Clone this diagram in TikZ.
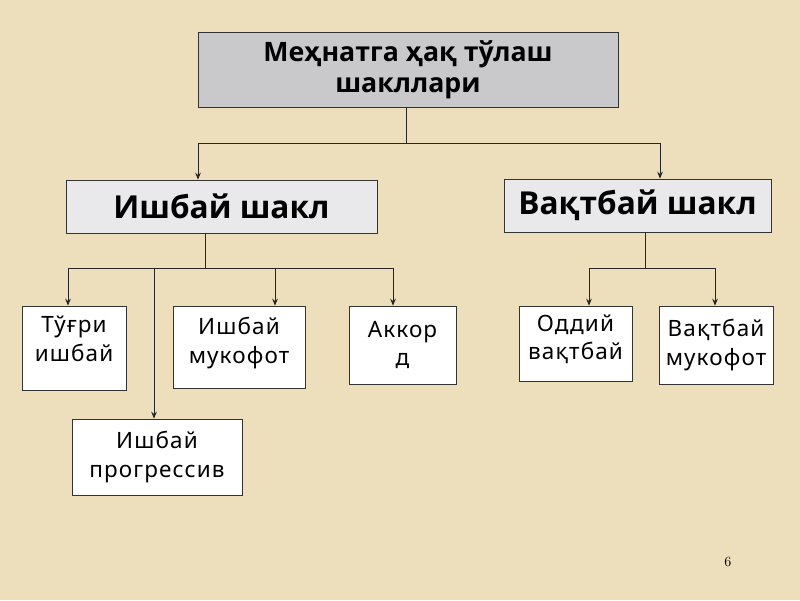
\documentclass[tikz,border=0pt]{standalone}
\usepackage{fontspec}
\newfontfamily\uzfont{Noto Sans}[LetterSpace=5]
\newfontfamily\uzbold{Open Sans}
\usetikzlibrary{arrows.meta}
\definecolor{parchment}{RGB}{237,223,188}
\definecolor{titlegray}{RGB}{201,201,203}
\definecolor{marble}{RGB}{233,233,235}
\begin{document}
\begin{tikzpicture}[
  box/.style={draw=black!80, fill=white, inner sep=0pt, align=center,
    font=\uzfont\fontsize{16}{20.5}\selectfont},
  headbox/.style={box, fill=marble, font=\uzbold\bfseries\fontsize{22.5}{27}\selectfont},
  link/.style={draw=black!85, line width=0.6pt},
  arr/.style={link, -{Stealth[length=5pt,width=4pt]}}
]
% background
\fill[parchment] (0,0) rectangle (20,15);

% top
\node[box, fill=titlegray, font=\uzbold\bfseries\fontsize{19}{22}\selectfont,
  minimum width=10.5cm, minimum height=1.875cm] (title) at (10.2,13.2625)
  {Меҳнатга ҳақ тўлаш\\шакллари};

% two forms
\node[headbox, minimum width=7.775cm, minimum height=1.325cm] (ishbay) at (5.5375,9.8375) {Ишбай шакл};
\node[headbox, minimum width=6.675cm, minimum height=1.325cm] (vaqtbay) at (15.9375,9.8625) {Вақтбай шакл};

% piece-rate kinds
\node[box, minimum width=2.6cm, minimum height=2.1cm, text depth=13pt] (tugri) at (1.85,6.3) {Тўғри\\ишбай};
\node[box, minimum width=3.3cm, minimum height=2.05cm, text depth=10pt] (ishmuk) at (5.975,6.325) {Ишбай\\мукофот};
\node[box, minimum width=2.675cm, minimum height=1.95cm] (akkord) at (10.0625,6.375) {Аккор\\д};
\node[box, minimum width=4.25cm, minimum height=1.9cm] (progr) at (3.925,3.575) {Ишбай\\прогрессив};

% time-rate kinds
\node[box, minimum width=2.825cm, minimum height=1.875cm, text depth=9pt] (oddiy) at (14.3875,6.4125) {Оддий\\вақтбай};
\node[box, minimum width=2.85cm, minimum height=1.95cm] (vaqtmuk) at (17.9,6.375) {Вақтбай\\мукофот};

% page number
\node (page) at (18.2,0.95) {\fontsize{10}{12}\selectfont 6};

% title -> forms
\coordinate (jt) at (10.15,11.425);
\coordinate (ja) at (4.95,11.425);
\coordinate (jb) at (16.5,11.425);
\draw[link] (title.south -| jt) -- (jt);
\draw[link] (ja) -- (jb);
\draw[arr] (ja) -- (ja |- ishbay.north);
\draw[arr] (jb) -- (jb |- vaqtbay.north);

% ishbay -> kinds
\coordinate (ki) at (5.125,8.3);
\coordinate (k1) at (1.7,8.3);
\coordinate (k2) at (6.875,8.3);
\coordinate (k3) at (9.825,8.3);
\coordinate (k4) at (3.85,8.3);
\draw[link] (ishbay.south -| ki) -- (ki);
\draw[link] (k1) -- (k3);
\draw[arr] (k1) -- (k1 |- tugri.north);
\draw[arr] (k2) -- (k2 |- ishmuk.north);
\draw[arr] (k3) -- (k3 |- akkord.north);
\draw[arr] (k4) -- (k4 |- progr.north);

% vaqtbay -> kinds
\coordinate (kv) at (16.125,8.3);
\coordinate (v1) at (14.725,8.3);
\coordinate (v2) at (17.875,8.3);
\draw[link] (vaqtbay.south -| kv) -- (kv);
\draw[link] (v1) -- (v2);
\draw[arr] (v1) -- (v1 |- oddiy.north);
\draw[arr] (v2) -- (v2 |- vaqtmuk.north);
\end{tikzpicture}
\end{document}
